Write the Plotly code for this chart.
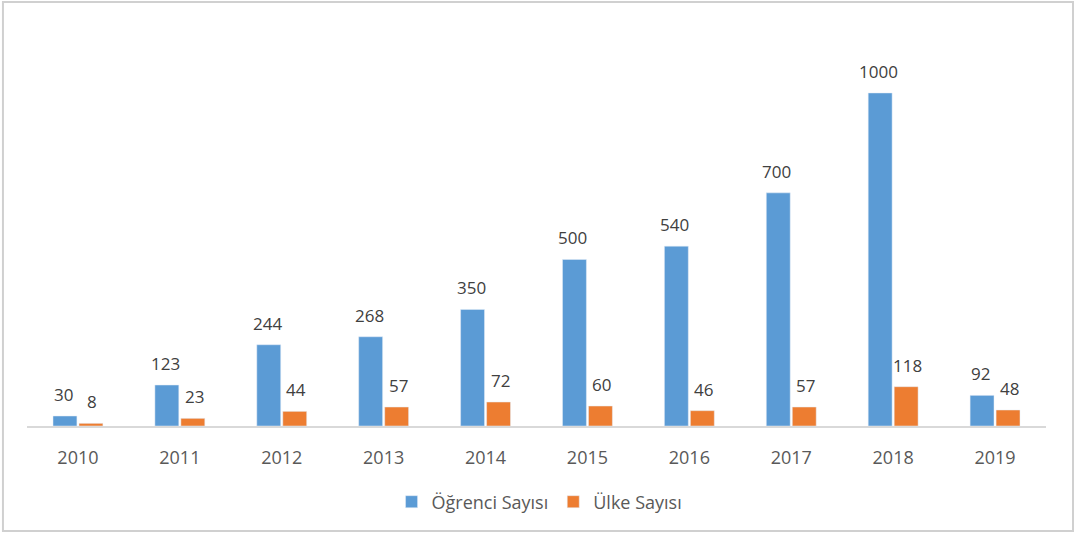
import plotly.graph_objects as go

years = ["2010", "2011", "2012", "2013", "2014", "2015", "2016", "2017", "2018", "2019"]
ogrenci = [30, 123, 244, 268, 350, 500, 540, 700, 1000, 92]
ulke = [8, 23, 44, 57, 72, 60, 46, 57, 118, 48]

FONT = "Open Sans, Liberation Sans, sans-serif"
BLUE = "#5B9BD5"
ORANGE = "#ED7D31"

fig = go.Figure()
fig.add_trace(go.Bar(x=years, y=ogrenci, name="Öğrenci Sayısı", marker=dict(color=BLUE)))
fig.add_trace(go.Bar(x=years, y=ulke, name="Ülke Sayısı", marker=dict(color=ORANGE)))

# value labels above each bar, placed at the category index and shifted to the bar's slot
annotations = []
for series, shift in ((ogrenci, -14.5), (ulke, 14.5)):
    for i, v in enumerate(series):
        annotations.append(dict(
            x=i, y=v, xref="x", yref="y", text=str(v), showarrow=False,
            xanchor="center", yanchor="bottom", xshift=shift, yshift=8,
            font=dict(family=FONT, size=17, color="#404040"),
        ))

fig.update_layout(
    width=1078, height=534,
    margin=dict(l=27, r=32, t=30, b=108),
    paper_bgcolor="white", plot_bgcolor="white",
    barmode="group", bargap=0.49, bargroupgap=0.08,
    font=dict(family=FONT, color="#595959"),
    xaxis=dict(
        type="category", range=[-0.5, len(years) - 0.5],
        showline=True, linecolor="#d9d9d9", linewidth=2,
        ticks="outside", ticklen=14, tickcolor="rgba(0,0,0,0)",
        tickfont=dict(size=18, color="#595959"),
        showgrid=False, fixedrange=True,
    ),
    yaxis=dict(range=[0, 1189], visible=False, showgrid=False, zeroline=False),
    legend=dict(
        orientation="h", x=0.503, xanchor="center", y=-0.1919, yanchor="middle",
        font=dict(size=18, color="#595959"), itemwidth=30,
    ),
    showlegend=True,
    annotations=annotations,
    shapes=[dict(
        type="rect", xref="paper", yref="paper",
        x0=-0.0236, x1=1.0265, y0=-0.2652, y1=1.0707,
        line=dict(color="#d0d0d0", width=2), fillcolor="rgba(0,0,0,0)",
    )],
)

fig.write_html("out.html")
